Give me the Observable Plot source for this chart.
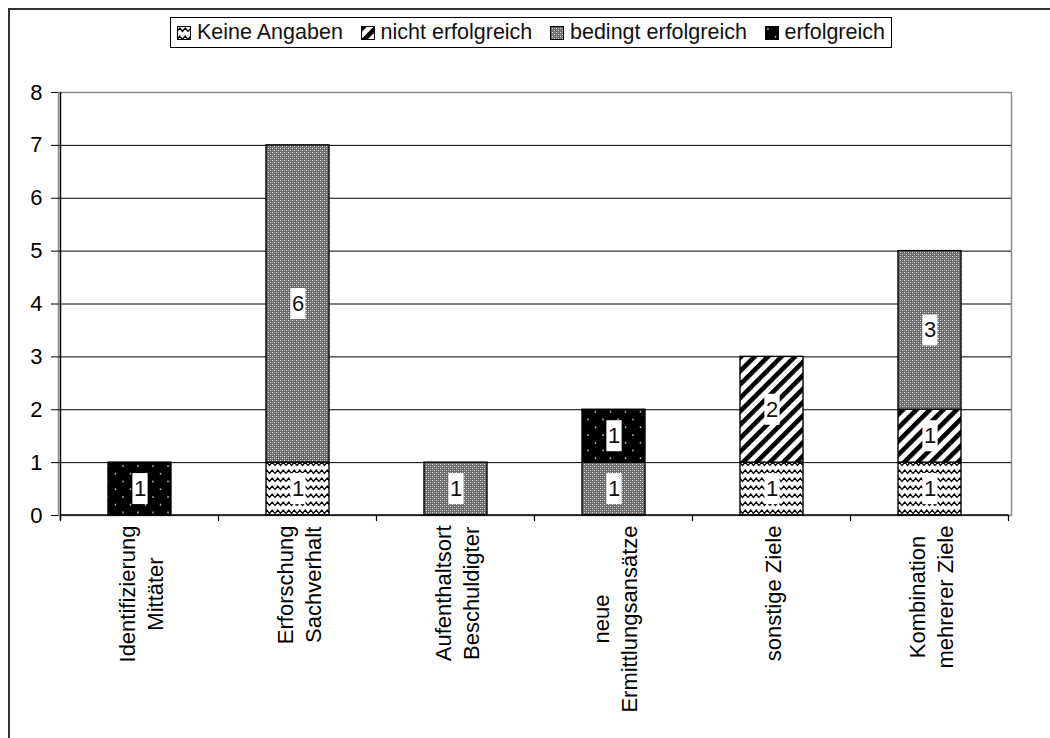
<!DOCTYPE html>
<html>
<head>
<meta charset="utf-8">
<script src="https://cdn.jsdelivr.net/npm/d3@7"></script>
<script src="https://cdn.jsdelivr.net/npm/@observablehq/plot@0.6"></script>
<style>
  html, body { margin: 0; padding: 0; background: #fff; overflow: hidden; }
  body { position: relative; width: 1050px; height: 738px; font-family: "Liberation Sans", Arial, sans-serif; }
  #frame { position: absolute; left: 8px; top: 8px; width: 1100px; height: 800px;
           border-left: 2px solid #333; border-top: 2px solid #333; box-sizing: border-box; }
  #legend { position: absolute; left: 170px; top: 17px; width: 722px; height: 31px;
            border: 1px solid #000; box-sizing: border-box; display: flex; align-items: center;
            justify-content: space-between; padding: 0 6px; font-size: 21.5px; color: #111; background: #fff; }
  #legend .item { display: flex; align-items: center; white-space: nowrap; }
  #legend svg { margin-right: 6px; }
  #chart { position: absolute; left: 0; top: 60px; }
</style>
</head>
<body>
<svg width="0" height="0" style="position:absolute">
  <defs>
    <pattern id="pWave" patternUnits="userSpaceOnUse" width="11" height="8">
      <rect width="11" height="8" fill="#fff"/>
      <path d="M0,5.5 L2.75,2 L5.5,5.5 L8.25,2 L11,5.5" fill="none" stroke="#000" stroke-width="1.3"/>
    </pattern>
    <pattern id="pDiag" patternUnits="userSpaceOnUse" width="9.5" height="9.5" patternTransform="rotate(45)">
      <rect width="9.5" height="9.5" fill="#fff"/>
      <rect width="4.6" height="9.5" fill="#000"/>
    </pattern>
    <pattern id="pGray" patternUnits="userSpaceOnUse" width="4" height="4">
      <rect width="4" height="4" fill="#6a6a6a"/>
      <rect x="0" y="0" width="1" height="1" fill="#e0e0e0"/>
      <rect x="2" y="2" width="1" height="1" fill="#e0e0e0"/>
      <rect x="2" y="0" width="1" height="1" fill="#a0a0a0"/>
      <rect x="0" y="2" width="1" height="1" fill="#a0a0a0"/>
    </pattern>
    <pattern id="pDots" patternUnits="userSpaceOnUse" width="15" height="15.5">
      <rect width="15" height="15.5" fill="#000"/>
      <circle cx="3" cy="3" r="0.9" fill="#ddd"/>
      <circle cx="10.5" cy="10.75" r="0.9" fill="#ddd"/>
    </pattern>
  </defs>
</svg>
<div id="frame"></div>
<div id="legend"></div>
<div id="chart"></div>
<script>
// ---- data ----
const categories = [
  "Identifizierung\nMittäter",
  "Erforschung\nSachverhalt",
  "Aufenthaltsort\nBeschuldigter",
  "neue\nErmittlungsansätze",
  "sonstige Ziele",
  "Kombination\nmehrerer Ziele"
];
const series = ["Keine Angaben", "nicht erfolgreich", "bedingt erfolgreich", "erfolgreich"];
const keineAngaben       = [0, 1, 0, 0, 1, 1];
const nichtErfolgreich   = [0, 0, 0, 0, 2, 1];
const bedingtErfolgreich = [0, 6, 1, 1, 0, 3];
const erfolgreich        = [1, 0, 0, 1, 0, 0];
const yTicks = [0, 1, 2, 3, 4, 5, 6, 7, 8];
const patterns = ["url(#pWave)", "url(#pDiag)", "url(#pGray)", "url(#pDots)"];

const seriesValues = [keineAngaben, nichtErfolgreich, bedingtErfolgreich, erfolgreich];
const rows = [];
categories.forEach((c, i) => {
  seriesValues.forEach((vals, s) => {
    if (vals[i] > 0) rows.push({category: c, series: series[s], value: vals[i]});
  });
});

// ---- legend ----
const legend = document.getElementById("legend");
series.forEach((s, i) => {
  const item = document.createElement("div");
  item.className = "item";
  item.innerHTML = `<svg width="14" height="14"><rect x="0.5" y="0.5" width="13" height="13" fill="${patterns[i]}" stroke="#000" stroke-width="1"/></svg><span>${s}</span>`;
  legend.appendChild(item);
});

// ---- chart ----
const font = "Liberation Sans, Arial, sans-serif";
const chart = Plot.plot({
  width: 1050,
  height: 678,
  marginLeft: 58,
  marginRight: 39,
  marginTop: 32,
  marginBottom: 223,
  style: {fontFamily: font, background: "transparent", color: "#000", overflow: "visible"},
  x: {domain: categories, paddingInner: 0.6, paddingOuter: 0.3},
  y: {domain: [0, 8]},
  color: {domain: series, range: patterns},
  marks: [
    Plot.frame({stroke: "#8a8a8a", strokeWidth: 1.5}),
    Plot.gridY(yTicks.slice(1, -1), {stroke: "#000", strokeOpacity: 1, strokeWidth: 1}),
    Plot.barY(rows, Plot.stackY({
      x: "category", y: "value", fill: "series", order: series,
      stroke: "#000", strokeWidth: 1.4
    })),
    Plot.text(rows, Plot.stackY({
      x: "category", y: "value", z: "series", order: series,
      text: d => String(d.value), fontSize: 22, fill: "#111", className: "barlabel"
    })),
    Plot.axisY(yTicks, {tickSize: 7, tickPadding: 9, fontSize: 22, label: null, stroke: "#000",
                        tickFormat: d => String(d)}),
    Plot.axisX({tickSize: 0, tickPadding: 10, tickRotate: -90, fontSize: 22, lineHeight: 1.25, label: null})
  ]
});
document.getElementById("chart").appendChild(chart);

// ---- post-processing: axis lines, band-boundary ticks, label boxes, centred multi-line labels ----
const svg = d3.select(chart);
const xs = chart.scale("x"), ys = chart.scale("y");
const y0 = ys.apply(0), yTop = ys.apply(8);
const bandLeft = xs.apply(categories[0]) - (xs.step - xs.bandwidth) / 2;
const g = svg.append("g").attr("stroke", "#000");
g.append("line").attr("x1", bandLeft).attr("x2", bandLeft).attr("y1", yTop).attr("y2", y0 + 5).attr("stroke-width", 1.5);
const xRight = bandLeft + xs.step * categories.length;
g.append("line").attr("x1", bandLeft).attr("x2", xRight).attr("y1", y0).attr("y2", y0).attr("stroke-width", 1.5);
for (let i = 0; i <= categories.length; i++) {
  const x = bandLeft + i * xs.step;
  g.append("line").attr("x1", x).attr("x2", x).attr("y1", y0).attr("y2", y0 + 6).attr("stroke-width", 1.2);
}

// white boxes behind bar labels
svg.selectAll(".barlabel text").each(function() {
  const b = this.getBBox();
  const t = this.getAttribute("transform");
  const r = document.createElementNS("http://www.w3.org/2000/svg", "rect");
  r.setAttribute("x", b.x - 1.5);
  r.setAttribute("y", b.y - 3);
  r.setAttribute("width", b.width + 3);
  r.setAttribute("height", b.height + 6);
  r.setAttribute("fill", "#fff");
  if (t) r.setAttribute("transform", t);
  this.parentNode.insertBefore(r, this);
});

// centre lines of rotated category labels relative to each other
svg.selectAll('g[aria-label="x-axis tick label"] text').each(function() {
  const spans = this.querySelectorAll("tspan");
  if (!spans.length) return;
  let maxLen = 0;
  spans.forEach(s => { maxLen = Math.max(maxLen, s.getComputedTextLength()); });
  this.setAttribute("text-anchor", "middle");
  spans.forEach(s => s.setAttribute("x", -maxLen / 2));
});
</script>
</body>
</html>
